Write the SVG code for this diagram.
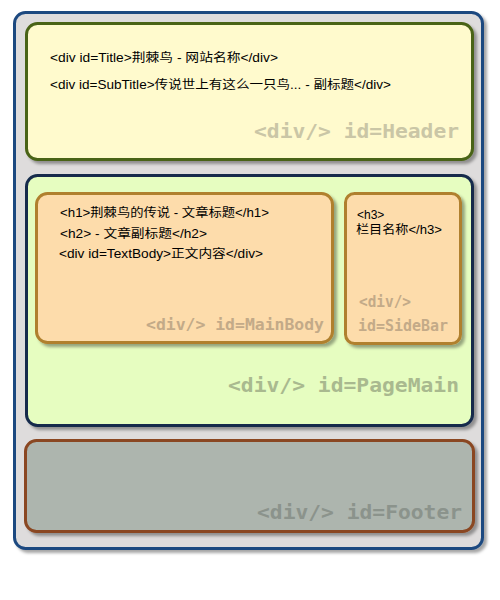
<svg xmlns="http://www.w3.org/2000/svg" width="500" height="600" viewBox="0 0 500 600">
<defs>
<filter id="sh" x="-5%" y="-5%" width="112%" height="115%">
<feDropShadow dx="3" dy="3" stdDeviation="1.5" flood-color="#000" flood-opacity="0.35"/>
</filter>
</defs>
<style>
.box{stroke-width:3;filter:url(#sh)}
.t{font-family:"Liberation Sans","Noto Sans CJK SC",sans-serif;font-size:12px;fill:#000}
.lbl{font-family:"DejaVu Sans Mono","Liberation Mono",monospace;font-weight:bold;font-size:20px}
.lbs{font-family:"DejaVu Sans Mono","Liberation Mono",monospace;font-weight:bold;font-size:16px}
</style>
<rect width="500" height="600" fill="#fff"/>
<g id="Container">
<rect class="box" x="14.5" y="12.5" width="468" height="536" rx="11" fill="#dedcdc" stroke="#1f4a80"/>
</g>
<g id="Header">
<rect class="box" x="26.5" y="23.5" width="446" height="136" rx="11" fill="#fffacd" stroke="#4a6318"/>
<text class="t" x="50" y="62" textLength="228" lengthAdjust="spacingAndGlyphs">&lt;div id=Title&gt;荆棘鸟 - 网站名称&lt;/div&gt;</text>
<text class="t" x="50" y="89" textLength="341" lengthAdjust="spacingAndGlyphs">&lt;div id=SubTitle&gt;传说世上有这么一只鸟... - 副标题&lt;/div&gt;</text>
<text class="lbl" x="459" y="138" text-anchor="end" fill="#cac6a6" textLength="205" lengthAdjust="spacingAndGlyphs">&lt;div/&gt; id=Header</text>
</g>
<g id="PageMain">
<rect class="box" x="26.5" y="175.5" width="446" height="250" rx="11" fill="#e6fdc0" stroke="#142c4c"/>
<text class="lbl" x="459" y="392" text-anchor="end" fill="#a9b98f" textLength="231" lengthAdjust="spacingAndGlyphs">&lt;div/&gt; id=PageMain</text>
</g>
<g id="MainBody">
<rect class="box" x="36.5" y="193.5" width="296" height="149" rx="11" fill="#fddcab" stroke="#b0802e"/>
<text class="t" x="60" y="217" textLength="209" lengthAdjust="spacingAndGlyphs">&lt;h1&gt;荆棘鸟的传说 - 文章标题&lt;/h1&gt;</text>
<text class="t" x="60" y="238" textLength="147" lengthAdjust="spacingAndGlyphs">&lt;h2&gt; - 文章副标题&lt;/h2&gt;</text>
<text class="t" x="59" y="258" textLength="204" lengthAdjust="spacingAndGlyphs">&lt;div id=TextBody&gt;正文内容&lt;/div&gt;</text>
<text class="lbs" x="324" y="330" text-anchor="end" fill="#c3aa88" textLength="178" lengthAdjust="spacingAndGlyphs">&lt;div/&gt; id=MainBody</text>
</g>
<g id="SideBar">
<rect class="box" x="345.5" y="193.5" width="115" height="150" rx="9" fill="#fddcab" stroke="#b0802e"/>
<text class="t" x="357" y="219">&lt;h3&gt;</text>
<text class="t" x="356" y="234" textLength="86" lengthAdjust="spacingAndGlyphs">栏目名称&lt;/h3&gt;</text>
<text class="lbs" x="359" y="307" fill="#c3aa88" textLength="52" lengthAdjust="spacingAndGlyphs">&lt;div/&gt;</text>
<text class="lbs" x="358" y="331" fill="#c3aa88" textLength="90" lengthAdjust="spacingAndGlyphs">id=SideBar</text>
</g>
<g id="Footer">
<rect class="box" x="25.5" y="440.5" width="448" height="91" rx="11" fill="#adb5ae" stroke="#8a4620"/>
<text class="lbl" x="462" y="519" text-anchor="end" fill="#8b938c" textLength="205" lengthAdjust="spacingAndGlyphs">&lt;div/&gt; id=Footer</text>
</g>
<g id="connectors"/>
</svg>
